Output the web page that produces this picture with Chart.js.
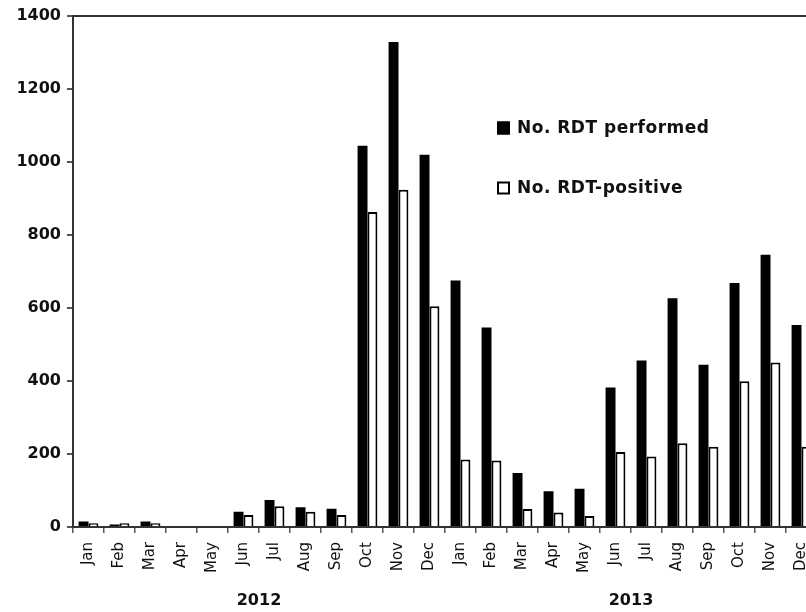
<!DOCTYPE html>
<html>
<head>
<meta charset="utf-8">
<script src="https://cdn.jsdelivr.net/npm/chart.js@4"></script>
<style>
  html, body { margin: 0; padding: 0; background: #fff; overflow: hidden; }
  #wrap { position: relative; width: 830px; height: 612px; }
</style>
</head>
<body>
<div id="wrap"><canvas id="myChart"></canvas></div>
<script>
// data
const months = ['Jan', 'Feb', 'Mar', 'Apr', 'May', 'Jun', 'Jul', 'Aug', 'Sep', 'Oct', 'Nov', 'Dec',
                'Jan', 'Feb', 'Mar', 'Apr', 'May', 'Jun', 'Jul', 'Aug', 'Sep', 'Oct', 'Nov', 'Dec'];
const years = ['2012', '2013'];
const performed = [15, 7, 15, 0, 0, 42, 74, 54, 50, 1044, 1328, 1019,
                   675, 546, 148, 98, 105, 382, 456, 626, 444, 668, 745, 553];
const positive = [10, 10, 10, 0, 0, 33, 57, 42, 33, 862, 923, 604,
                  185, 182, 49, 40, 30, 205, 193, 229, 220, 399, 450, 220];
const yTicks = [0, 200, 400, 600, 800, 1000, 1200, 1400];

const axisColor = '#333';
const textColor = '#111';

// legend drawn inside the plot, at the spot the original uses
const insideLegend = {
    id: 'insideLegend',
    afterDraw(chart) {
        const c = chart.ctx;
        const spots = [{x: 497, y: 128}, {x: 497, y: 188}];
        c.save();
        c.font = 'bold 17px "DejaVu Sans"';
        c.letterSpacing = '0.5px';
        c.textBaseline = 'middle';
        chart.data.datasets.forEach((ds, i) => {
            const p = spots[i];
            c.fillStyle = ds.backgroundColor;
            c.fillRect(p.x, p.y - 6.5, 13, 13);
            c.lineWidth = 2;
            c.strokeStyle = '#000';
            c.strokeRect(p.x + 1, p.y - 5.5, 11, 11);
            c.fillStyle = textColor;
            c.fillText(ds.label, p.x + 20, p.y + 1);
        });
        c.restore();
    }
};

const ctx = document.getElementById('myChart');

const config = {
    type: 'bar',
    data: {
        labels: months,
        datasets: [
            {
                label: 'No. RDT performed',
                data: performed,
                backgroundColor: '#000',
                borderColor: '#000',
                borderWidth: 0,
            },
            {
                label: 'No. RDT-positive',
                data: positive,
                backgroundColor: '#fff',
                borderColor: '#000',
                borderWidth: 2,
            }
        ]
    },
    options: {
        responsive: true,
        maintainAspectRatio: false,
        animation: false,
        datasets: {
            bar: {
                categoryPercentage: 0.64,
                barPercentage: 1.0,
            }
        },
        layout: {
            padding: {top: 8, right: 13, left: 0, bottom: 0}
        },
        plugins: {
            legend: {display: false},
            tooltip: {enabled: false},
        },
        scales: {
            x: {
                position: 'bottom',
                offset: true,
                grid: {
                    offset: true,
                    drawOnChartArea: false,
                    tickLength: 6,
                    tickColor: '#555',
                    lineWidth: 1.5,
                },
                border: {color: axisColor, width: 2},
                ticks: {
                    autoSkip: false,
                    minRotation: 90,
                    maxRotation: 90,
                    padding: 9,
                    color: textColor,
                    font: {family: 'DejaVu Sans', size: 15},
                },
                afterFit: (scale) => { scale.height = 50; },
            },
            x2: {
                type: 'category',
                labels: years,
                position: 'bottom',
                offset: true,
                grid: {display: false, drawTicks: false},
                border: {display: false},
                ticks: {
                    padding: 14,
                    color: textColor,
                    font: {family: 'DejaVu Sans', size: 16, weight: 'bold'},
                },
                afterFit: (scale) => { scale.height = 35; },
            },
            y: {
                min: 0,
                max: 1400,
                afterBuildTicks: (scale) => { scale.ticks = yTicks.map(v => ({value: v})); },
                grid: {
                    color: (c) => c.tick && c.tick.value === 1400 ? axisColor : 'rgba(0,0,0,0)',
                    lineWidth: 2,
                    tickLength: 6,
                    tickColor: '#555',
                },
                border: {color: axisColor, width: 2},
                ticks: {
                    padding: 6,
                    color: textColor,
                    font: {family: 'DejaVu Sans', size: 16, weight: 'bold'},
                    callback: (v) => String(v),
                },
                afterFit: (scale) => { scale.width = 73; },
            }
        }
    },
    plugins: [insideLegend]
};
var chart = new Chart(ctx, config);
</script>
</body>
</html>
